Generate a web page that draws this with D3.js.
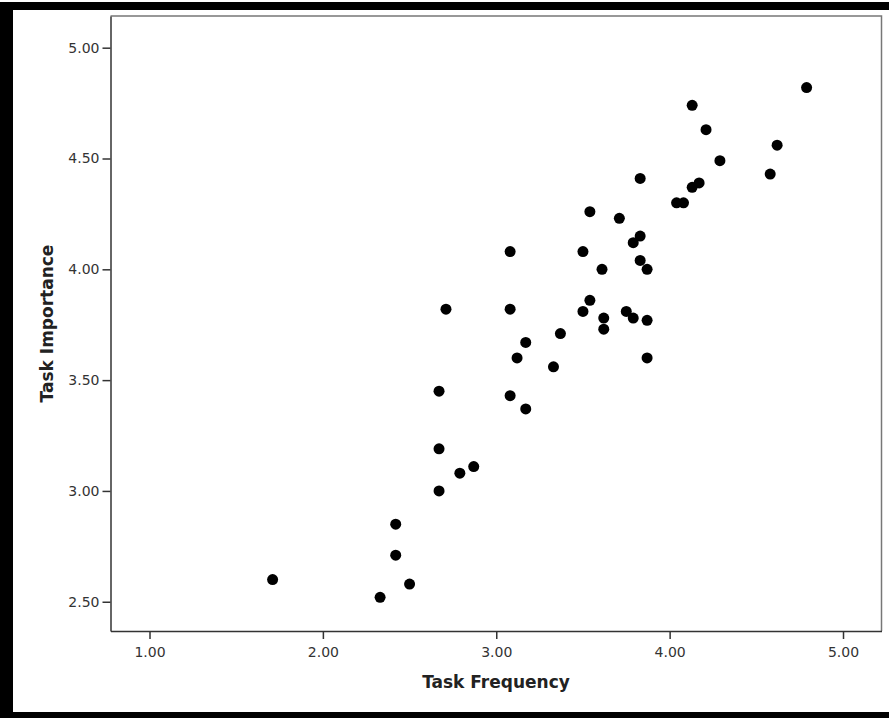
<!DOCTYPE html>
<html>
<head>
<meta charset="utf-8">
<script src="https://cdn.jsdelivr.net/npm/d3@7"></script>
<style>
  html, body { margin: 0; padding: 0; background: #fff; }
  svg { display: block; }
  .tick text { font-family: "DejaVu Sans", Verdana, sans-serif; font-size: 14px; fill: #333; }
  .tick line { stroke: #333; stroke-width: 1.5; }
  .title { font-family: "DejaVu Sans", Verdana, sans-serif; font-size: 17px; font-weight: bold; fill: #222; }
</style>
</head>
<body>
<svg width="889" height="719"></svg>
<script>
// task frequency (x) and task importance (y)
var frequency = [4.79, 4.13, 4.21, 4.62, 4.29, 4.58, 3.83, 4.17, 4.13, 4.04,
                 4.08, 3.54, 3.71, 3.83, 3.79, 3.08, 3.50, 3.83, 3.87, 3.61,
                 2.71, 3.08, 3.54, 3.50, 3.75, 3.79, 3.87, 3.62, 3.62, 3.37,
                 3.17, 3.12, 3.33, 3.87, 2.67, 3.08, 3.17, 2.67, 2.87, 2.79,
                 2.67, 2.42, 2.42, 2.50, 2.33, 1.71];
var importance = [4.82, 4.74, 4.63, 4.56, 4.49, 4.43, 4.41, 4.39, 4.37, 4.30,
                  4.30, 4.26, 4.23, 4.15, 4.12, 4.08, 4.08, 4.04, 4.00, 4.00,
                  3.82, 3.82, 3.86, 3.81, 3.81, 3.78, 3.77, 3.78, 3.73, 3.71,
                  3.67, 3.60, 3.56, 3.60, 3.45, 3.43, 3.37, 3.19, 3.11, 3.08,
                  3.00, 2.85, 2.71, 2.58, 2.52, 2.60];
var xTicks = [1, 2, 3, 4, 5];
var yTicks = [2.5, 3, 3.5, 4, 4.5, 5];

function drawChart() {
  var svg = d3.select("svg");

  // screenshot frame
  svg.append("rect").attr("x", 0).attr("y", 2).attr("width", 889).attr("height", 8).attr("fill", "#000");
  svg.append("rect").attr("x", 0).attr("y", 2).attr("width", 13).attr("height", 716).attr("fill", "#000");
  svg.append("rect").attr("x", 0).attr("y", 712).attr("width", 889).attr("height", 6).attr("fill", "#000");

  var plot = {left: 110.5, right: 881.5, top: 16, bottom: 631};

  var x = d3.scaleLinear().domain([0.775, 5.222]).range([plot.left, plot.right]);
  var y = d3.scaleLinear().domain([2.368, 5.143]).range([plot.bottom, plot.top]);

  // top and right edges of the plot box
  svg.append("path")
      .attr("d", "M" + plot.left + "," + plot.top + "H" + plot.right + "V" + plot.bottom)
      .attr("fill", "none")
      .attr("stroke", "#777")
      .attr("stroke-width", 1.5);

  svg.append("g")
      .attr("transform", "translate(" + plot.left + ",0)")
      .call(d3.axisLeft(y).tickValues(yTicks).tickFormat(d3.format(".2f")).tickSize(8).tickSizeOuter(0).tickPadding(3))
      .call(function(g) { g.select(".domain").attr("stroke", "#333").attr("stroke-width", 1.5); });

  svg.append("g")
      .attr("transform", "translate(0," + plot.bottom + ")")
      .call(d3.axisBottom(x).tickValues(xTicks).tickFormat(d3.format(".2f")).tickSize(8).tickSizeOuter(0).tickPadding(8))
      .call(function(g) { g.select(".domain").attr("stroke", "#333").attr("stroke-width", 1.5); });

  svg.append("g").selectAll("circle")
      .data(frequency)
      .enter().append("circle")
        .attr("cx", function(d) { return x(d); })
        .attr("cy", function(d, i) { return y(importance[i]); })
        .attr("r", 5.5)
        .attr("fill", "#000");

  svg.append("text")
      .attr("class", "title")
      .attr("x", (plot.left + plot.right) / 2)
      .attr("y", 688)
      .attr("text-anchor", "middle")
      .text("Task Frequency");

  svg.append("text")
      .attr("class", "title")
      .attr("transform", "translate(53," + (plot.top + plot.bottom) / 2 + ") rotate(-90)")
      .attr("text-anchor", "middle")
      .text("Task Importance");
}

drawChart();
</script>
</body>
</html>
